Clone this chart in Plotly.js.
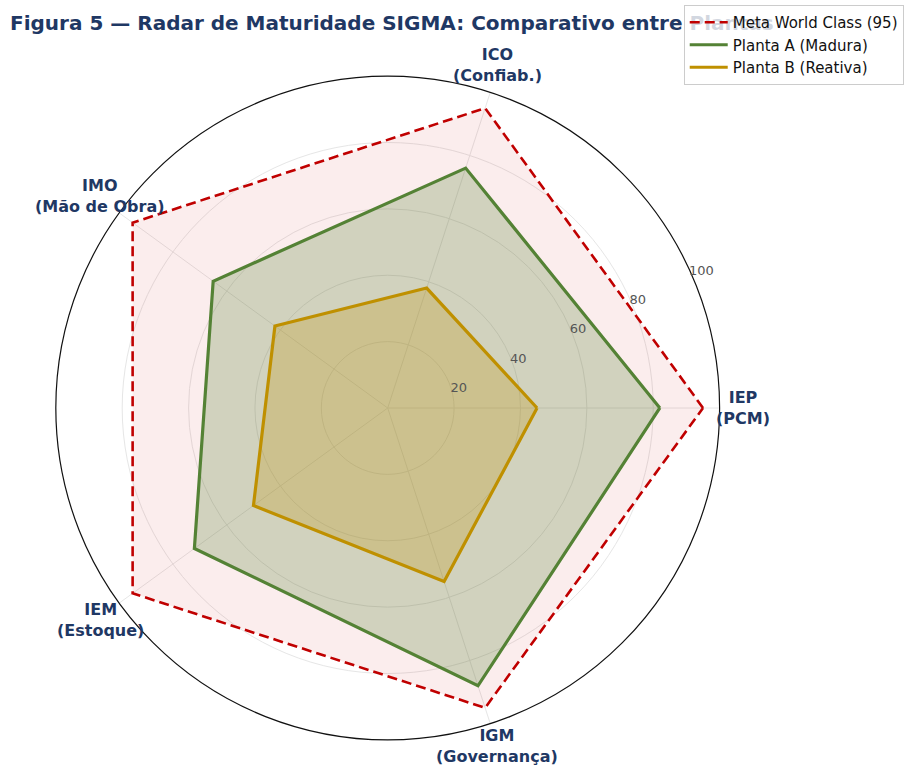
<!DOCTYPE html>
<html>
<head>
<meta charset="utf-8">
<script src="https://cdn.plot.ly/plotly-3.0.1.min.js"></script>
<style>html,body{margin:0;padding:0;background:#fff}#chart{width:904px;height:769px}</style>
</head>
<body>
<div id="chart"></div>
<script>
// ---- data ----
const categories = ['IEP', 'ICO', 'IMO', 'IEM', 'IGM'];
const subtitles = ['PCM', 'Confiab.', 'Mão de Obra', 'Estoque', 'Governança'];
const metaValues = [95, 95, 95, 95, 95];
const plantaAValues = [82, 76, 65, 72, 88];
const plantaBValues = [45, 38, 42, 50, 55];
const seriesNames = ['Meta World Class (95)', 'Planta A (Madura)', 'Planta B (Reativa)'];
const radialTicks = [20, 40, 60, 80, 100];

// ---- styles ----
const FONT = 'DejaVu Sans, Verdana, sans-serif';
const NAVY = '#1F3864';
const styles = [
  {line: '#C00000', fill: 'rgba(192,0,0,0.07)', width: 2.6, dash: '10px,5px'},
  {line: '#548235', fill: 'rgba(84,130,53,0.25)', width: 3.2, dash: 'solid'},
  {line: '#BF9000', fill: 'rgba(191,144,0,0.25)', width: 3.2, dash: 'solid'}
];
const allSeries = [metaValues, plantaAValues, plantaBValues];

function closed(arr) { return arr.concat([arr[0]]); }

const traces = [];
allSeries.forEach((vals, i) => {
  traces.push({
    type: 'scatterpolar', r: closed(vals), theta: closed(categories),
    mode: 'none', fill: 'toself', fillcolor: styles[i].fill,
    showlegend: false, hoverinfo: 'skip'
  });
  traces.push({
    type: 'scatterpolar', r: closed(vals), theta: closed(categories),
    mode: 'lines', name: seriesNames[i],
    line: {color: styles[i].line, width: styles[i].width, dash: styles[i].dash}
  });
});

const W = 904, H = 769, cx = 389, cy = 408, R = 333;
const LABEL_RX = 1.07 * R, LABEL_RY = 1.07 * 337;
const LABEL_MAX_Y = H - 23; // keep the lowest label inside the page

// category labels placed around the polar area (angles follow the category order)
const annotations = categories.map((c, i) => {
  const th = i * 2 * Math.PI / categories.length;
  const py = Math.min(cy - LABEL_RY * Math.sin(th), LABEL_MAX_Y);
  return {
    text: '<b>' + c + '</b><br><b>(' + subtitles[i] + ')</b>',
    xref: 'paper', yref: 'paper',
    x: (cx + LABEL_RX * Math.cos(th)) / W,
    y: 1 - py / H,
    xanchor: 'center', yanchor: 'middle', showarrow: false,
    font: {family: FONT, size: 16, color: NAVY}
  };
});

const layout = {
  width: W, height: H,
  margin: {l: 0, r: 0, t: 0, b: 0},
  paper_bgcolor: '#fff',
  font: {family: FONT},
  title: {
    text: '<b>Figura 5 — Radar de Maturidade SIGMA: Comparativo entre Plantas</b>',
    x: 10 / W, xanchor: 'left', xref: 'container',
    y: 1 - 23 / H, yanchor: 'middle', yref: 'container',
    font: {family: FONT, size: 20, color: NAVY}
  },
  polar: {
    domain: {x: [(cx - R) / W, (cx + R) / W], y: [(H - cy - R) / H, (H - cy + R) / H]},
    bgcolor: '#fff',
    radialaxis: {
      range: [0, 100], tickvals: radialTicks, ticktext: radialTicks.map(String),
      angle: 26, tickangle: 26, showline: false, ticks: '',
      gridcolor: '#e6e6e6', gridwidth: 1,
      tickfont: {family: FONT, size: 13, color: '#555'}
    },
    angularaxis: {
      type: 'category', categoryarray: categories, rotation: 0, direction: 'counterclockwise',
      showticklabels: false, ticks: '', gridcolor: '#e6e6e6', gridwidth: 1,
      showline: true, linecolor: '#111', linewidth: 1.2
    }
  },
  annotations: annotations,
  legend: {
    x: 686 / W, xanchor: 'left', y: 1 - 5 / H, yanchor: 'top',
    bgcolor: 'rgba(255,255,255,0.8)', bordercolor: '#cccccc', borderwidth: 1,
    itemwidth: 38,
    font: {family: FONT, size: 15, color: '#111'}
  },
  showlegend: true
};

Plotly.newPlot('chart', traces, layout, {displayModeBar: false, staticPlot: true}).then(gd => {
  // draw legend above the title, as in the reference
  const leg = gd.querySelector('.infolayer .legend');
  if (leg && leg.parentNode) leg.parentNode.appendChild(leg);
});
</script>
</body>
</html>
